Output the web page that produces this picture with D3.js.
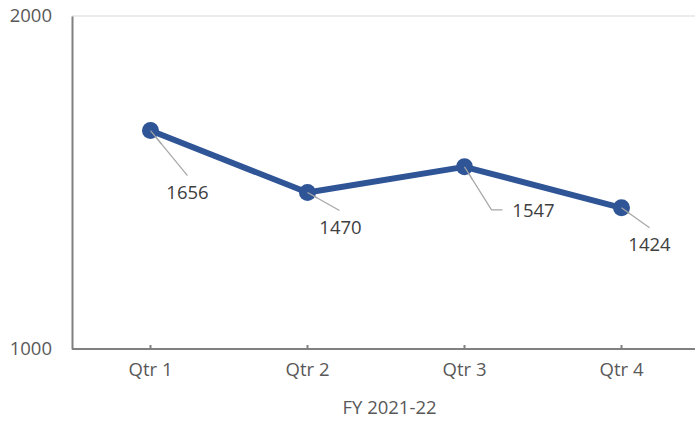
<!DOCTYPE html>
<html>
<head>
<meta charset="utf-8">
<script src="https://cdn.jsdelivr.net/npm/d3@7"></script>
<style>
  body { margin: 0; background: #fff; }
  text { font-family: "Open Sans", sans-serif; }
</style>
</head>
<body>
<div class="chart"></div>
<script>
// data
const quarters = ["Qtr 1", "Qtr 2", "Qtr 3", "Qtr 4"];
const sales = [1656, 1470, 1547, 1424];
const yTicks = [1000, 2000];
const xTitle = "FY 2021-22";

// label placement (leader line end, label centre) relative to the point
const labelPos = [
  { lx: 37, ly: 45, tx: 37, ty: 63, elbow: false },
  { lx: 32, ly: 18, tx: 33, ty: 37, elbow: false },
  { lx: 27, ly: 43, tx: 69, ty: 45, elbow: true },
  { lx: 28, ly: 20, tx: 28, ty: 38, elbow: false }
];

let width = 695;
let height = 421;
let marginLeft = 72;
let plotTop = 16;
let plotBottom = 349;
let fontSize = "18.5px";

let graph = d3
  .select(".chart")
  .append("svg")
  .attr("width", width)
  .attr("height", height);

let x = d3
  .scaleBand()
  .domain(quarters)
  .range([marginLeft, marginLeft + 628]);

let y = d3
  .scaleLinear()
  .domain([1000, 2000])
  .range([plotBottom, plotTop]);

// top gridline
graph
  .append("line")
  .attr("x1", marginLeft)
  .attr("x2", width)
  .attr("y1", y(2000))
  .attr("y2", y(2000))
  .attr("stroke", "#d9d9d9")
  .attr("stroke-width", 1);

// y axis
let yAxis = g =>
  g
    .attr("transform", `translate(${marginLeft},0)`)
    .call(d3.axisLeft(y).tickValues(yTicks).tickFormat(d3.format("d")).tickSize(0).tickPadding(20))
    .call(g => g.select(".domain").attr("stroke", "#808080").attr("stroke-width", 2))
    .call(g =>
      g
        .selectAll("text")
        .attr("fill", "#595959")
        .style("font-size", fontSize)
        .style("font-family", "Open Sans")
    );

// x axis
let xAxis = g =>
  g
    .attr("transform", `translate(0,${plotBottom})`)
    .call(d3.axisBottom(x).tickSize(-4).tickPadding(14).tickSizeOuter(0))
    .call(g =>
      g
        .select(".domain")
        .attr("d", `M${marginLeft},0H${width}`)
        .attr("stroke", "#808080")
        .attr("stroke-width", 2)
    )
    .call(g => g.selectAll(".tick line").attr("stroke", "#808080").attr("stroke-width", 2))
    .call(g =>
      g
        .selectAll("text")
        .attr("fill", "#595959")
        .style("font-size", fontSize)
        .style("font-family", "Open Sans")
    );

graph.append("g").call(yAxis);
graph.append("g").call(xAxis);

// x axis title
graph
  .append("text")
  .attr("x", (marginLeft + width) / 2 + 6)
  .attr("y", 409)
  .attr("text-anchor", "middle")
  .attr("dominant-baseline", "middle")
  .attr("fill", "#595959")
  .style("font-size", fontSize)
  .text(xTitle);

let cx = d => x(d.q) + x.bandwidth() / 2;
let points = quarters.map((q, i) => ({ q: q, v: sales[i], p: labelPos[i] }));

// leader lines
graph
  .append("g")
  .selectAll("path")
  .data(points)
  .enter()
  .append("path")
  .attr("d", d => {
    let x0 = cx(d);
    let y0 = y(d.v);
    let s = `M${x0},${y0}L${x0 + d.p.lx},${y0 + d.p.ly}`;
    if (d.p.elbow) s += `h11`;
    return s;
  })
  .attr("fill", "none")
  .attr("stroke", "#a6a6a6")
  .attr("stroke-width", 1.2);

// series line
let line = d3
  .line()
  .x(d => cx(d))
  .y(d => y(d.v));

graph
  .append("path")
  .datum(points)
  .attr("d", line)
  .attr("fill", "none")
  .attr("stroke", "#2f5597")
  .attr("stroke-width", 6)
  .attr("stroke-linejoin", "round");

// markers
graph
  .append("g")
  .selectAll("circle")
  .data(points)
  .enter()
  .append("circle")
  .attr("cx", d => cx(d))
  .attr("cy", d => y(d.v))
  .attr("r", 8.5)
  .attr("fill", "#2f5597");

// leader lines over markers (start at centre)
graph
  .append("g")
  .selectAll("line")
  .data(points)
  .enter()
  .append("line")
  .attr("x1", d => cx(d))
  .attr("y1", d => y(d.v))
  .attr("x2", d => cx(d) + d.p.lx * 0.3)
  .attr("y2", d => y(d.v) + d.p.ly * 0.3)
  .attr("stroke", "#a6a6a6")
  .attr("stroke-width", 1.2);

// data labels
graph
  .append("g")
  .selectAll("text")
  .data(points)
  .enter()
  .append("text")
  .attr("x", d => cx(d) + d.p.tx)
  .attr("y", d => y(d.v) + d.p.ty)
  .attr("text-anchor", "middle")
  .attr("dominant-baseline", "middle")
  .attr("fill", "#404040")
  .style("font-size", fontSize)
  .text(d => d.v);
</script>
</body>
</html>
